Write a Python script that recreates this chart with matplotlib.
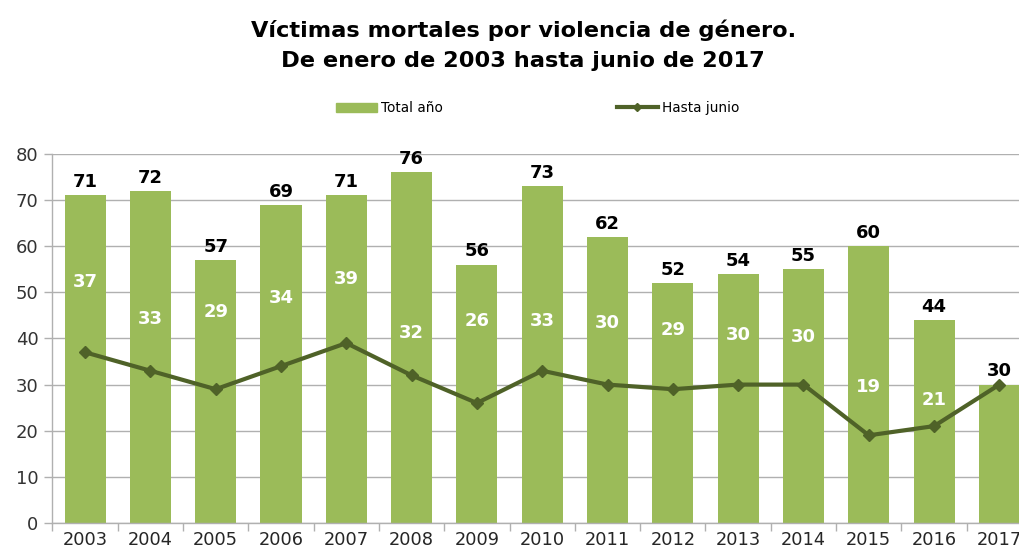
import numpy as np
from matplotlib import pyplot as plt
from matplotlib.lines import Line2D
from matplotlib.patches import Patch

# Data
years = ["2003", "2004", "2005", "2006", "2007", "2008", "2009", "2010",
         "2011", "2012", "2013", "2014", "2015", "2016", "2017"]
total_anio = [71, 72, 57, 69, 71, 76, 56, 73, 62, 52, 54, 55, 60, 44, 30]
hasta_junio = [37, 33, 29, 34, 39, 32, 26, 33, 30, 29, 30, 30, 19, 21, 30]

# where the white "hasta junio" labels sit inside each bar (layout only)
label_pos = [52.2, 44.2, 45.7, 48.8, 52.9, 41.2, 43.8, 43.8,
             43.4, 41.8, 40.7, 40.3, 29.5, 26.7]

bar_color = "#9BBB59"
line_color = "#4F6228"
grid_color = "#B0B0B0"

fig = plt.figure(figsize=(10.2, 5.56), dpi=100)
# the plot area runs slightly past the right edge of the picture
ax = fig.add_axes([0.0514, 0.0594, 0.9604, 0.6637])

x = np.arange(len(years))
ax.bar(x, total_anio, width=0.63, color=bar_color, zorder=2)
ax.plot(x, hasta_junio, color=line_color, lw=3, marker="D", ms=6, zorder=3)

# black labels on top of the bars
for xi, v in zip(x, total_anio):
    ax.annotate(str(v), (xi, v), xytext=(0, 3), textcoords="offset points",
                ha="center", va="bottom", fontsize=13, fontweight="bold",
                color="black", zorder=4)

# white labels inside the bars
for xi, v, pos in zip(x, hasta_junio, label_pos):
    ax.text(xi, pos, str(v), ha="center", va="center", fontsize=13,
            fontweight="bold", color="white", zorder=4)

ax.set_xlim(-0.5, len(years) - 0.5)
ax.set_ylim(0, 80)
ax.set_yticks(range(0, 81, 10))
ax.yaxis.grid(True, color=grid_color, lw=1.0, zorder=0)
ax.set_axisbelow(True)

ax.set_xticks(x)
ax.set_xticklabels(years)
ax.set_xticks(np.arange(-0.5, len(years), 1), minor=True)
ax.tick_params(axis="x", which="major", length=0, pad=6, labelsize=12.8,
               labelcolor="#262626")
ax.tick_params(axis="x", which="minor", length=6, color=grid_color, width=1.0)
ax.tick_params(axis="y", length=6, color=grid_color, width=1.0, labelsize=13,
               labelcolor="#333333", pad=4)

for side in ["top", "right"]:
    ax.spines[side].set_visible(False)
for side in ["left", "bottom"]:
    ax.spines[side].set_color(grid_color)
    ax.spines[side].set_linewidth(1.0)

fig.text(0.513, 1 - 45 / 556, "Víctimas mortales por violencia de género.\nDe enero de 2003 hasta junio de 2017",
         ha="center", va="center", fontsize=16.2, fontweight="bold",
         linespacing=1.65)

handles = [Patch(color=bar_color),
           Line2D([], [], color=line_color, lw=3, marker="D", ms=4)]
fig.legend(handles, ["Total año", "Hasta junio"], loc="center",
           bbox_to_anchor=(0.527, 1 - 108 / 556), ncol=2, frameon=False,
           fontsize=9.8, handlelength=3.0, handleheight=0.6,
           handletextpad=0.3, columnspacing=12.8)

fig.savefig("out.png", dpi=100)
